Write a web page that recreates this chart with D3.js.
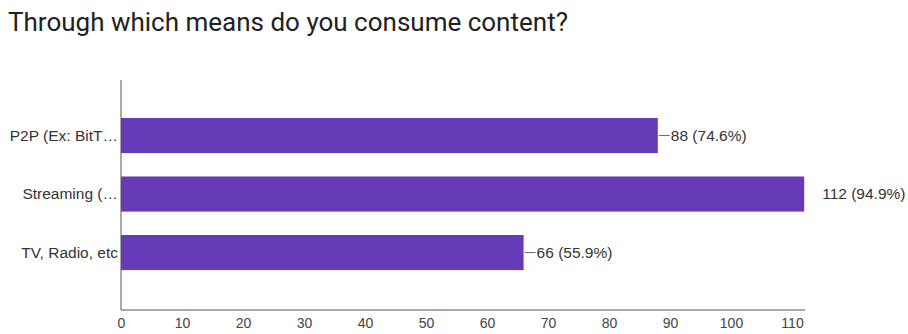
<!DOCTYPE html>
<html>
<head>
<meta charset="utf-8">
<script src="https://cdn.jsdelivr.net/npm/d3@7"></script>
<style>
  html, body { margin: 0; padding: 0; background: #fff; }
  svg { display: block; }
</style>
</head>
<body>
<svg id="chart" width="908" height="334"></svg>
<script>
// Survey responses per consumption channel
const categories = ["P2P (Ex: BitT…", "Streaming (…", "TV, Radio, etc"];
const counts = [88, 112, 66];
const percents = ["74.6%", "94.9%", "55.9%"];
const tickValues = [0, 10, 20, 30, 40, 50, 60, 70, 80, 90, 100, 110];

const svg = d3.select("#chart");
const plotLeft = 121, plotTop = 80, plotBottom = 310;
const font = "'Liberation Sans', Arial, sans-serif";

svg.append("text")
  .attr("x", 8).attr("y", 31)
  .attr("font-family", "Roboto, 'Noto Sans', sans-serif")
  .attr("font-size", 26)
  .attr("fill", "#212121")
  .text("Through which means do you consume content?");

const x = d3.scaleLinear().domain([0, 110]).range([plotLeft, 792]);
const y = d3.scaleBand().domain(categories).range([88.75, 299.35]).paddingInner(0.4).paddingOuter(0.5);

// bars
svg.append("g").selectAll("rect")
  .data(categories)
  .join("rect")
  .attr("x", x(0))
  .attr("y", d => y(d))
  .attr("width", (d, i) => x(counts[i]) - x(0))
  .attr("height", y.bandwidth())
  .attr("fill", "#673ab7");

// axes
const xAxis = svg.append("g")
  .attr("transform", `translate(0,${plotBottom})`)
  .call(d3.axisBottom(x).tickValues(tickValues).tickSize(0).tickPadding(8));
xAxis.select(".domain").attr("stroke", "#555").attr("d", `M${x(0)},0H805`);
xAxis.selectAll("text")
  .attr("font-family", font)
  .attr("font-size", 14).attr("fill", "#444");

svg.append("line")
  .attr("x1", x(0)).attr("x2", x(0))
  .attr("y1", plotTop).attr("y2", plotBottom)
  .attr("stroke", "#555");

const yAxis = svg.append("g")
  .attr("transform", `translate(${x(0)},0)`)
  .call(d3.axisLeft(y).tickSize(0).tickPadding(3));
yAxis.select(".domain").remove();
yAxis.selectAll("text")
  .attr("font-family", font)
  .attr("font-size", 15.5).attr("fill", "#333");

// value annotations with short leader stems
const maxCount = d3.max(counts);
const ann = svg.append("g").selectAll("g")
  .data(categories.map((c, i) => ({ c, v: counts[i], p: percents[i] })))
  .join("g");
ann.filter(d => d.v !== maxCount)
  .append("line")
  .attr("x1", d => x(d.v) + 1)
  .attr("x2", d => x(d.v) + 12)
  .attr("y1", d => y(d.c) + y.bandwidth() / 2)
  .attr("y2", d => y(d.c) + y.bandwidth() / 2)
  .attr("stroke", "#666");
ann.append("text")
  .attr("x", d => x(d.v) + (d.v === maxCount ? 18 : 13))
  .attr("y", d => y(d.c) + y.bandwidth() / 2)
  .attr("dy", "0.35em")
  .attr("font-family", font)
  .attr("font-size", 15.5).attr("fill", "#333")
  .text(d => `${d.v} (${d.p})`);
</script>
</body>
</html>
